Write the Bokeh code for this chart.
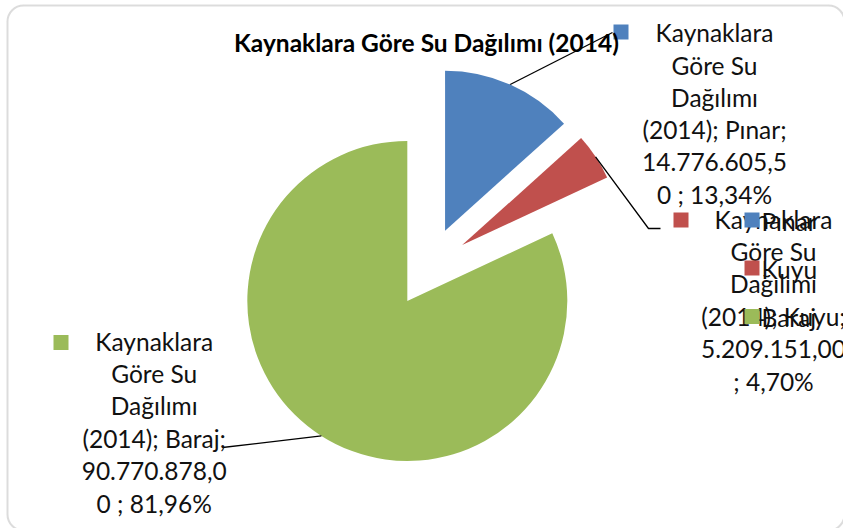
import math
from bokeh.plotting import figure
from bokeh.models import Range1d, BoxAnnotation, ColumnDataSource
from bokeh.core.properties import value
from bokeh.embed import file_html
from bokeh.resources import INLINE

# ---------------- data ----------------
chart_title = "Kaynaklara Göre Su Dağılımı (2014)"
categories = ["Pınar", "Kuyu", "Baraj"]
values = [14776605.50, 5209151.00, 90770878.00]
colors = ["#4F81BD", "#C0504D", "#9BBB59"]
# data label text, wrapped as in the reference
label_lines = [
    ["Kaynaklara", "Göre Su", "Dağılımı", "(2014); Pınar;", "14.776.605,5", "0 ; 13,34%"],
    ["Kaynaklara", "Göre Su", "Dağılımı", "(2014); Kuyu;", "5.209.151,00", "; 4,70%"],
    ["Kaynaklara", "Göre Su", "Dağılımı", "(2014); Baraj;", "90.770.878,0", "0 ; 81,96%"],
]

# ---------------- layout (page pixels, y down) ----------------
W, H = 843, 528
FONT = "Lato"
LABEL_SIZE = 24.5
LINE_STEP = 32.4
TEXT_DY = -9.5   # baseline correction

def dx(sx):
    return sx

def dy(sy):
    return H - sy

CX, CY = 428.3, 266.7      # pie centre (page px)
R = 160.0                  # radius (px)
EXPLODE = 0.25             # fraction of radius

label_pos = [(714, 41.7), (773, 228.0), (153.7, 350.0)]      # centre x, first baseline
key_pos = [(620.5, 31.5), (680.5, 219.5), (60.5, 342.0)]     # small colour key of labels
leader_ends = [[(612, 32)], [(648, 228), (660, 228)], [(222, 447)]]
legend_key_x, legend_text_x = 751.5, 761
legend_y = [219.5, 267.5, 316.0]

p = figure(width=W, height=H, output_backend="svg", toolbar_location=None,
           x_range=Range1d(0, W), y_range=Range1d(0, H), min_border=0)
p.xaxis.visible = False
p.yaxis.visible = False
p.grid.visible = False
p.outline_line_color = None
p.background_fill_color = "white"
p.border_fill_color = "white"

# ---------------- pie ----------------
total = sum(values)
fracs = [v / total for v in values]
theta0 = 0.0
wx, wy, sa, ea = [], [], [], []
leaders_x, leaders_y = [], []
for i, f in enumerate(fracs):
    t_start = theta0 * 2 * math.pi
    t_end = (theta0 + f) * 2 * math.pi
    t_mid = (t_start + t_end) / 2
    ax = CX + EXPLODE * R * math.sin(t_mid)
    ay = CY - EXPLODE * R * math.cos(t_mid)
    wx.append(dx(ax)); wy.append(dy(ay))
    sa.append(math.pi / 2 - t_start)
    ea.append(math.pi / 2 - t_end)
    # leader from arc mid point
    mx = ax + R * math.sin(t_mid)
    my = ay - R * math.cos(t_mid)
    pts = [(mx, my)] + leader_ends[i]
    leaders_x.append([dx(a) for a, b in pts])
    leaders_y.append([dy(b) for a, b in pts])
    theta0 += f

src = ColumnDataSource(dict(x=wx, y=wy, start=sa, end=ea, color=colors, cat=categories))
p.wedge(x="x", y="y", radius=R, start_angle="start", end_angle="end",
        direction="clock", fill_color="color", line_color=None, source=src)

p.multi_line(xs=leaders_x, ys=leaders_y, line_color="black", line_width=1.3)

# ---------------- data labels ----------------
tx, ty, tt = [], [], []
for (cx, by), lines in zip(label_pos, label_lines):
    for j, s in enumerate(lines):
        tx.append(dx(cx)); ty.append(dy(by + j * LINE_STEP + TEXT_DY)); tt.append(s)
p.text(x=tx, y=ty, text=tt, text_align="center", text_baseline="alphabetic",
       text_font=value(FONT), text_font_size=f"{LABEL_SIZE}px", text_color="#111111")

p.scatter(x=[dx(a) for a, b in key_pos], y=[dy(b) for a, b in key_pos], marker="square",
          size=15, fill_color=colors, line_color=None)

# ---------------- legend ----------------
p.scatter(x=[dx(legend_key_x)] * 3, y=[dy(v) for v in legend_y], marker="square",
          size=15, fill_color=colors, line_color=None)
p.text(x=[dx(legend_text_x)] * 3, y=[dy(v + 1) for v in legend_y], text=categories,
       text_align="left", text_baseline="middle", text_font=value(FONT),
       text_font_size=f"{LABEL_SIZE}px", text_color="#111111")

# ---------------- title ----------------
p.text(x=[dx(426)], y=[dy(51.7 + TEXT_DY)], text=[chart_title], text_align="center",
       text_baseline="alphabetic", text_font=value(FONT), text_font_style="bold",
       text_font_size="24.5px", text_color="black")

# ---------------- chart border ----------------
p.add_layout(BoxAnnotation(left=7, right=W + 1, top=H - 5, bottom=-2, fill_alpha=0,
                           line_color="#8c8c8c", line_width=2, border_radius=16))

open("out.html", "w").write(file_html(p, INLINE))
